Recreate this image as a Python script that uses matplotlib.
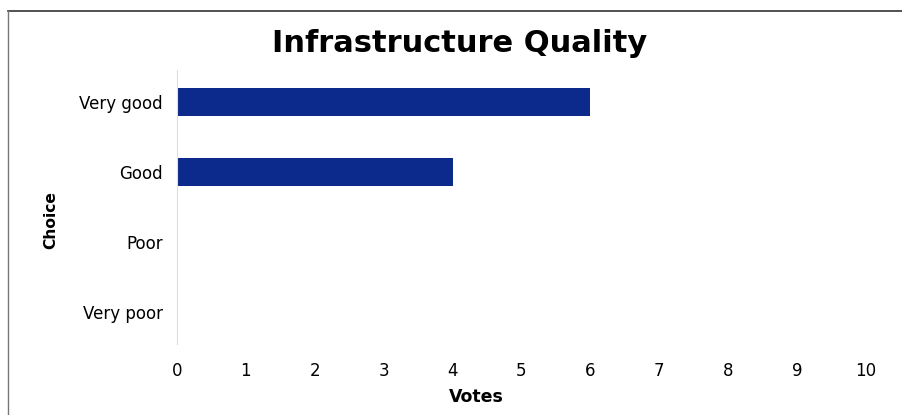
import matplotlib
matplotlib.use("Agg")
import matplotlib.pyplot as plt
from matplotlib.lines import Line2D

categories = ["Very good", "Good", "Poor", "Very poor"]
votes = [6, 4, 0, 0]
xticks = list(range(0, 11))

fig = plt.figure(figsize=(9.02, 4.15), dpi=100)
ax = fig.add_axes([0.1962, 0.171, 0.7638, 0.6603])

ypos = list(range(len(categories)))
ax.barh(ypos, votes, height=0.4, color="#0b2a8c")
ax.set_ylim(len(categories) - 0.55, -0.45)
ax.set_xlim(0, 10)
ax.set_yticks(ypos)
ax.set_yticklabels(categories, fontsize=12)
ax.set_xticks(xticks)
ax.set_xticklabels([str(t) for t in xticks], fontsize=12)
ax.tick_params(axis="x", length=0, pad=13)
ax.tick_params(axis="y", length=0, pad=10)
for s in ["top", "right", "bottom"]:
    ax.spines[s].set_visible(False)
ax.spines["left"].set_color("#dddddd")
ax.spines["left"].set_linewidth(0.8)
ax.set_xlabel("Votes", fontsize=12.5, fontweight="bold")
ax.xaxis.set_label_coords(0.434, -0.16)
ax.set_ylabel("Choice", fontsize=11.2, fontweight="bold")
ax.yaxis.set_label_coords(-0.172, 0.453)

fig.text(0.51, 0.895, "Infrastructure Quality", ha="center", va="center",
         fontsize=22, fontweight="bold")

# page frame lines (scan border)
fig.add_artist(Line2D([8/902, 1.0], [1 - 11/415, 1 - 11/415], color="#333333", lw=1.2,
                      transform=fig.transFigure))
fig.add_artist(Line2D([8/902, 8/902], [0, 1 - 11/415], color="#777777", lw=1.0,
                      transform=fig.transFigure))

fig.savefig("out.png", dpi=100)
